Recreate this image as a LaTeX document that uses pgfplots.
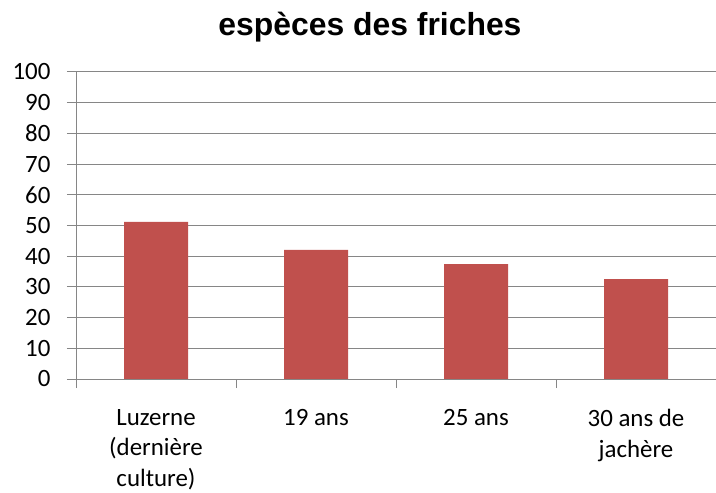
\documentclass[border=0pt]{standalone}
\usepackage{fontspec}
\setmainfont{Carlito}
\newfontfamily\titlefont{Liberation Sans}
\usepackage{pgfplots}
\pgfplotsset{compat=1.18}
\definecolor{barred}{RGB}{192,80,77}
\definecolor{gridgray}{RGB}{134,134,134}
\begin{document}
\begin{tikzpicture}
\begin{axis}[
  at={(76bp,114bp)}, anchor=south west,
  scale only axis, width=640bp, height=307bp,
  xmin=-0.5, xmax=3.5, ymin=0, ymax=100,
  axis x line*=bottom, axis y line*=left,
  axis line style={gridgray, line width=1bp},
  ytick={0,10,...,100},
  ymajorgrids, major grid style={gridgray, line width=1bp},
  major tick length=9bp,
  minor tick length=9bp,
  every tick/.style={gridgray, line width=1bp},
  xtick={0,1,2,3},
  major x tick style={draw=none},
  minor x tick style={draw=gridgray, line width=1bp},
  minor xtick={-0.5,0.5,1.5,2.5,3.5},
  xticklabels={{Luzerne\\(dernière\\culture)},{19 ans},{25 ans},{30 ans de\\jachère}},
  xticklabel style={align=center, font=\fontsize{25}{30.5}\selectfont, anchor=north, yshift=-18bp},
  yticklabel style={font=\fontsize{25}{30}\selectfont, xshift=-13bp},
  /pgf/number format/assume math mode=true,
  ybar, bar width=64bp,
  xtick align=outside, ytick align=outside,
]
\addplot[fill=barred, draw=none] coordinates {(0,51.2) (1,42.1) (2,37.4) (3,32.5)};
\end{axis}
\node[font=\titlefont\bfseries\fontsize{32}{38}\selectfont] at (370bp,466bp) {espèces des friches};
\pgfresetboundingbox
\path (0,0) rectangle (716bp,493bp);
\end{tikzpicture}
\end{document}
